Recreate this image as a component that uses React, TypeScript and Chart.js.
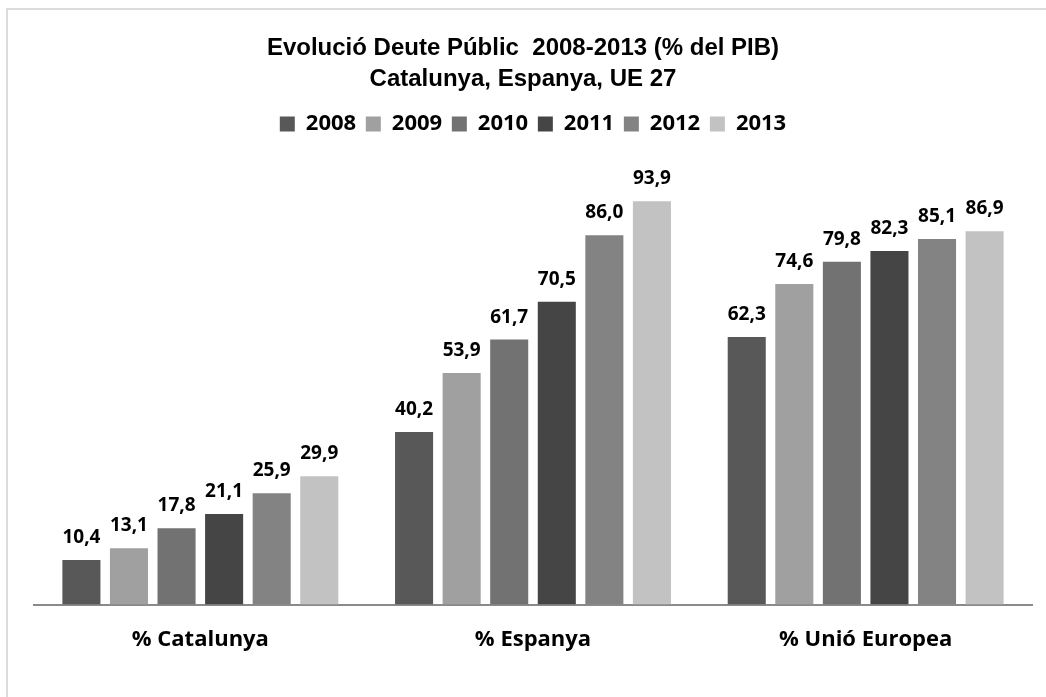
import React, { useEffect, useRef } from "react";
import { Chart, registerables } from "chart.js";

Chart.register(...registerables);

const categories = ["% Catalunya", "% Espanya", "% Unió Europea"];
const years = ["2008", "2009", "2010", "2011", "2012", "2013"];
const values2008 = [10.4, 40.2, 62.3];
const values2009 = [13.1, 53.9, 74.6];
const values2010 = [17.8, 61.7, 79.8];
const values2011 = [21.1, 70.5, 82.3];
const values2012 = [25.9, 86.0, 85.1];
const values2013 = [29.9, 93.9, 86.9];
const seriesValues = [values2008, values2009, values2010, values2011, values2012, values2013];
const colors = ["#585858", "#a0a0a0", "#727272", "#454545", "#838383", "#c2c2c2"];
const titleLines = ["Evolució Deute Públic  2008-2013 (% del PIB)", "Catalunya, Espanya, UE 27"];

const SANS = "'Open Sans', 'Noto Sans', sans-serif";

const dataLabels = {
  id: "dataLabels",
  afterDatasetsDraw(chart: any) {
    const ctx = chart.ctx;
    ctx.save();
    ctx.font = `bold 19px ${SANS}`;
    ctx.fillStyle = "#000";
    ctx.textAlign = "center";
    ctx.textBaseline = "alphabetic";
    chart.data.datasets.forEach((ds: any, i: number) => {
      const meta = chart.getDatasetMeta(i);
      meta.data.forEach((bar: any, j: number) => {
        const v = ds.data[j] as number;
        ctx.fillText(v.toFixed(1).replace(".", ","), bar.x, bar.y - 17);
      });
    });
    ctx.restore();
  },
};

const chartTitle = {
  id: "chartTitle",
  afterDraw(chart: any) {
    const ctx = chart.ctx;
    ctx.save();
    ctx.font = "bold 24px 'Liberation Sans', Arial, sans-serif";
    ctx.fillStyle = "#000";
    ctx.textAlign = "center";
    ctx.textBaseline = "alphabetic";
    const cx = 523;
    ctx.fillText(titleLines[0], cx, 55);
    ctx.fillText(titleLines[1], cx, 86);
    ctx.restore();
  },
};

export default function App() {
  const ref = useRef<HTMLCanvasElement | null>(null);
  useEffect(() => {
    if (!ref.current) return;
    const chart = new Chart(ref.current, {
      type: "bar",
      data: {
        labels: categories,
        datasets: years.map((y, i) => ({
          label: y,
          data: seriesValues[i],
          backgroundColor: colors[i],
          borderWidth: 0,
          barPercentage: 0.8,
          categoryPercentage: 0.858,
        })),
      },
      options: {
        animation: false,
        responsive: true,
        maintainAspectRatio: false,
        layout: { padding: { top: 103.3, left: 34, right: 14, bottom: 22 } },
        plugins: {
          title: { display: false },
          legend: {
            display: true,
            position: "top",
            labels: {
              color: "#000",
              font: { family: SANS, size: 22, weight: "bold" },
              boxWidth: 15,
              boxHeight: 15,
              padding: 9.7,
            },
          },
          subtitle: {
            display: true,
            text: "",
            weight: 500,
            font: { size: 10, lineHeight: 1 },
            padding: { top: 10, bottom: 10 },
          },
          tooltip: { enabled: false },
        },
        scales: {
          x: {
            grid: { display: false, drawTicks: false },
            border: { display: true, color: "#8a8a8a", width: 2 },
            ticks: { color: "#000", font: { family: SANS, size: 22, weight: "bold" }, padding: 22 },
          },
          y: {
            display: false,
            min: 0,
            max: 100,
          },
        },
      },
      plugins: [dataLabels, chartTitle],
    });
    return () => chart.destroy();
  }, []);
  return (
    <div style={{ position: "fixed", left: 0, top: 0, width: 1046, height: 697, background: "#fff" }}>
      <div
        style={{
          position: "absolute",
          left: 6,
          top: 8,
          width: 1200,
          height: 900,
          border: "2px solid #dcdcdc",
          boxSizing: "border-box",
        }}
      />
      <div style={{ position: "absolute", left: 0, top: 0, width: 1046, height: 697 }}>
        <canvas ref={ref} />
      </div>
    </div>
  );
}
